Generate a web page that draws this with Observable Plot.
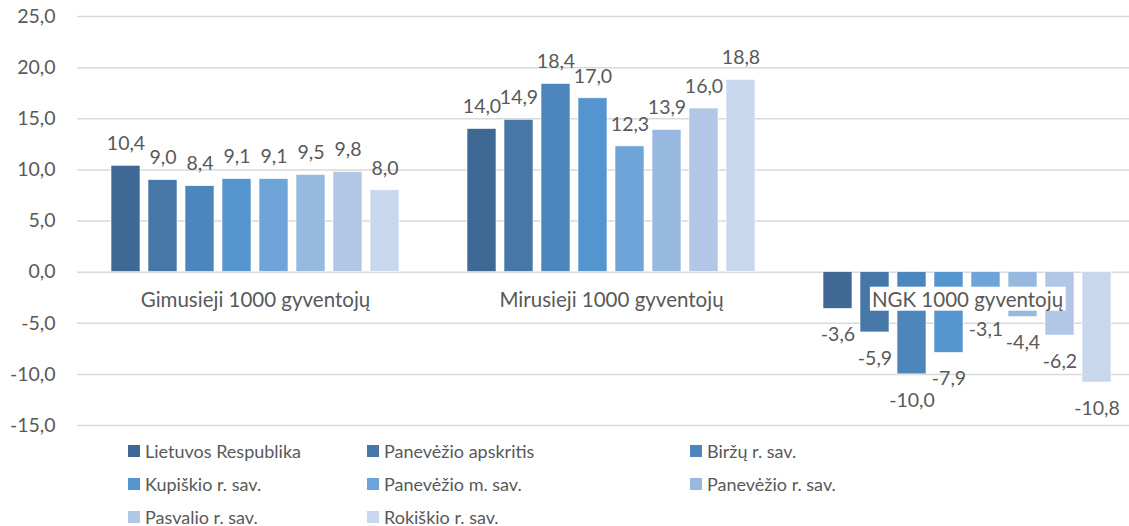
<!DOCTYPE html>
<html>
<head>
<meta charset="utf-8">
<script src="https://cdn.jsdelivr.net/npm/d3@7"></script>
<script src="https://cdn.jsdelivr.net/npm/@observablehq/plot@0.6"></script>
<style>
  html, body { margin: 0; padding: 0; background: #fff; overflow: hidden; }
  body { width: 1129px; height: 526px; font-family: Lato, "Noto Sans", sans-serif; color: #595959; }
  #chart svg { display: block; overflow: visible; }
  .legend { display: grid; grid-template-columns: 239px 323px auto; padding-left: 128px; padding-top: 4px; grid-auto-rows: 33px; }
  .legend .item { display: flex; align-items: center; font-size: 18px; color: #595959; white-space: nowrap; }
  .legend .sw { width: 12px; height: 12px; margin-right: 5px; flex: none; }
</style>
</head>
<body>
<div id="chart"></div>
<div class="legend" id="legend"></div>
<script>
const categories = ["Gimusieji 1000 gyventojų", "Mirusieji 1000 gyventojų", "NGK 1000 gyventojų"];
const series = ["Lietuvos Respublika", "Panevėžio apskritis", "Biržų r. sav.", "Kupiškio r. sav.",
  "Panevėžio m. sav.", "Panevėžio r. sav.", "Pasvalio r. sav.", "Rokiškio r. sav."];
const gimusieji = [10.4, 9.0, 8.4, 9.1, 9.1, 9.5, 9.8, 8.0];
const mirusieji = [14.0, 14.9, 18.4, 17.0, 12.3, 13.9, 16.0, 18.8];
const ngk = [-3.6, -5.9, -10.0, -7.9, -3.1, -4.4, -6.2, -10.8];
const yTicks = [-15, -10, -5, 0, 5, 10, 15, 20, 25];
const colors = ["#3f6994", "#4677a7", "#4c86bd", "#5495cf", "#6fa4d8", "#98b9df", "#b1c7e5", "#c8d7ee"];

const values = [gimusieji, mirusieji, ngk];
const data = [];
categories.forEach((c, i) => series.forEach((s, j) => data.push({cat: c, series: s, value: values[i][j]})));
const fmt = v => v.toFixed(1).replace(".", ",");

const chart = Plot.plot({
  width: 1129,
  height: 430,
  marginTop: 16,
  marginBottom: 5,
  marginLeft: 77,
  marginRight: -16,
  style: {fontFamily: "Lato, 'Noto Sans', sans-serif", fontSize: "19.5px", color: "#595959", background: "white"},
  fx: {domain: categories, padding: 0, axis: null},
  x: {domain: series, paddingInner: 0.22, paddingOuter: 0.857, axis: null},
  y: {domain: [-15, 25], ticks: yTicks, tickFormat: fmt, tickSize: 0, tickPadding: 22, label: null},
  color: {domain: series, range: colors},
  marks: [
    Plot.ruleY(yTicks, {stroke: "#d9d9d9", strokeWidth: 1.5}),
    Plot.barY(data, {fx: "cat", x: "series", y: "value", fill: "series", stroke: "white", strokeWidth: 0.6}),
    Plot.text(data.filter(d => d.value >= 0), {fx: "cat", x: "series", y: "value", text: d => fmt(d.value), dy: -22, fill: "#595959"}),
    Plot.text(data.filter(d => d.value < 0), {fx: "cat", x: "series", y: "value", text: d => fmt(d.value), dy: 26, fill: "#595959"}),
    Plot.text(data.filter(d => d.series === series[0]), {fx: "cat", y: 0, text: "cat", dy: 28, fontSize: 20.5, fill: "#595959"})
  ]
});
document.getElementById("chart").appendChild(chart);

// white background boxes behind category labels (sized from the text's own bbox)
Array.from(chart.querySelectorAll("text"))
  .filter(t => categories.includes(t.textContent.trim()))
  .forEach(t => {
    const b = t.getBBox();
    const r = document.createElementNS("http://www.w3.org/2000/svg", "rect");
    r.setAttribute("x", b.x - 2);
    r.setAttribute("y", b.y);
    r.setAttribute("width", b.width + 4);
    r.setAttribute("height", b.height);
    r.setAttribute("fill", "white");
    r.setAttribute("stroke", "none");
    const tr = t.getAttribute("transform");
    if (tr) r.setAttribute("transform", tr);
    t.parentNode.insertBefore(r, t);
  });

const legend = document.getElementById("legend");
series.forEach((s, i) => {
  const item = document.createElement("div");
  item.className = "item";
  const sw = document.createElement("span");
  sw.className = "sw";
  sw.style.background = colors[i];
  item.appendChild(sw);
  item.appendChild(document.createTextNode(s));
  legend.appendChild(item);
});
</script>
</body>
</html>
